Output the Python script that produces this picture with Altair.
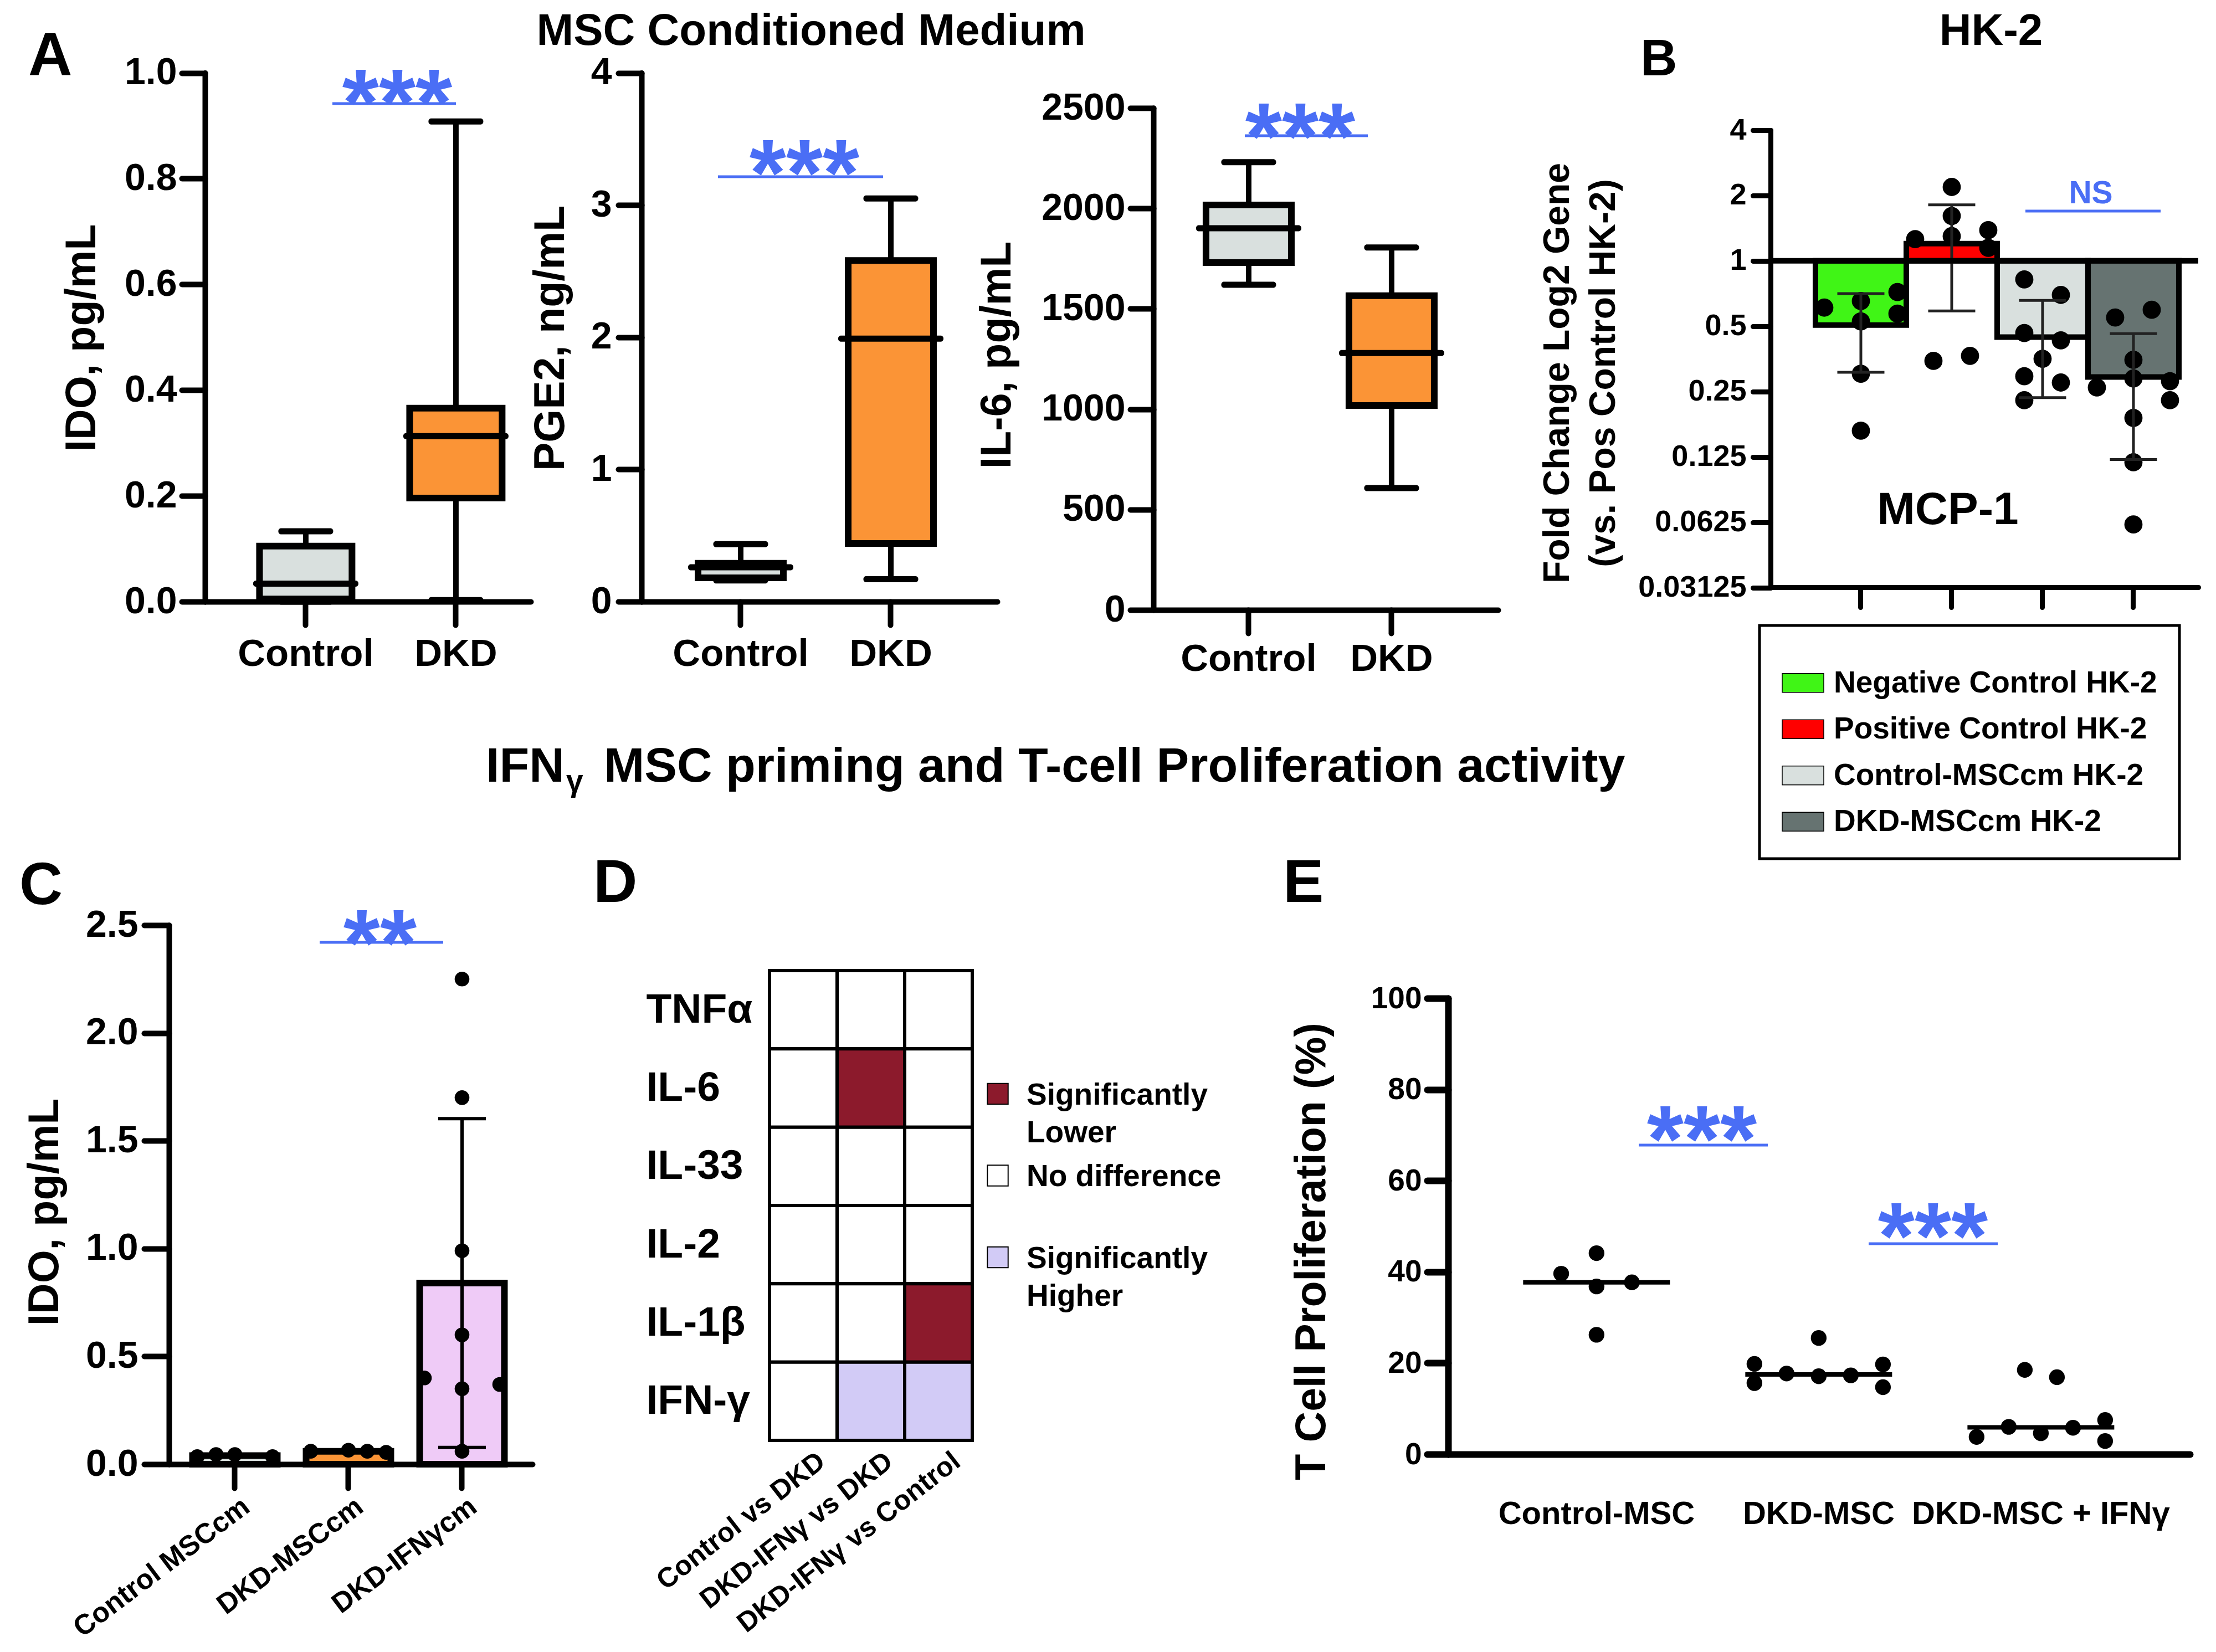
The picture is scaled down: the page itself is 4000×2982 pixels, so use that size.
import altair as alt
import pandas as pd

OFF = 8
W, H = 3984, 2966
FONT = "Liberation Sans"
BLUE = "#4a6ef5"
ORANGE = "#fb9436"
LIGHT = "#d9e0de"


def P(v):
    return v - OFF


# ---------------- Panel A : MSC conditioned medium (box plots) ----------------
A_groups = ["Control", "DKD"]
ido_min = [0.0, 0.003]
ido_q1 = [0.005, 0.196]
ido_med = [0.034, 0.313]
ido_q3 = [0.105, 0.366]
ido_max = [0.133, 0.908]

pge2_min = [0.16, 0.17]
pge2_q1 = [0.18, 0.44]
pge2_med = [0.26, 1.99]
pge2_q3 = [0.29, 2.58]
pge2_max = [0.435, 3.05]

il6_min = [1620, 607]
il6_q1 = [1730, 1018]
il6_med = [1901, 1280]
il6_q3 = [2017, 1565]
il6_max = [2230, 1805]

# ---------------- Panel B : HK-2 MCP-1 fold change ----------------
B_groups = ["Negative Control HK-2", "Positive Control HK-2",
            "Control-MSCcm HK-2", "DKD-MSCcm HK-2"]
B_neg = [0.609, 0.653, 0.718, 0.571, 0.526, 0.302, 0.165]
B_neg_slot = [-2, 0, 2, 2, 0, 0, 0]
B_pos = [1.26, 2.19, 1.61, 1.30, 1.385, 1.148, 0.346, 0.365]
B_pos_slot = [-2, 0, 0, 0, 2, 2, -1, 1]
B_cms = [0.821, 0.697, 0.465, 0.430, 0.354, 0.294, 0.275, 0.228]
B_cms_slot = [-1, 1, -1, 1, 0, -1, 1, -1]
B_dms = [0.548, 0.595, 0.350, 0.261, 0.287, 0.279, 0.228, 0.189, 0.118, 0.061]
B_dms_slot = [-1, 1, 0, -2, 0, 2, 2, 0, 0, 0]
B_ticks = [0.03125, 0.0625, 0.125, 0.25, 0.5, 1, 2, 4]

# ---------------- Panel C : IDO after IFNg priming ----------------
C_groups = ["Control MSCcm", "DKD-MSCcm", "DKD-IFNγcm"]
C_ctrl = [0.035, 0.045, 0.045, 0.035]
C_ctrl_slot = [-2, -1, 0, 2]
C_dkd = [0.06, 0.065, 0.06, 0.055]
C_dkd_slot = [-2, 0, 1, 2]
C_ifn = [2.25, 1.70, 0.99, 0.60, 0.35, 0.40, 0.37, 0.06]
C_ifn_slot = [0, 0, 0, 0, 0, -2, 2, 0]

# ---------------- Panel D : cytokine heat map ----------------
D_rows = ["TNFα", "IL-6", "IL-33", "IL-2", "IL-1β", "IFN-γ"]
D_cols = ["Control vs DKD", "DKD-IFNγ vs DKD", "DKD-IFNγ vs Control"]
D_levels = ["Significantly Lower", "No difference", "Significantly Higher"]
D_level_labels = ["Significantly\nLower", "No difference", "Significantly\nHigher"]
D_status = [
    ["No difference", "No difference", "No difference"],
    ["No difference", "Significantly Lower", "No difference"],
    ["No difference", "No difference", "No difference"],
    ["No difference", "No difference", "No difference"],
    ["No difference", "No difference", "Significantly Lower"],
    ["No difference", "Significantly Higher", "Significantly Higher"],
]

# ---------------- Panel E : T cell proliferation ----------------
E_groups = ["Control-MSC", "DKD-MSC", "DKD-MSC + IFNγ"]
E_ctrl = [39.6, 44.1, 36.8, 37.7, 26.2]
E_ctrl_slot = [-2.2, 0, 0, 2.2, 0]
E_dkd = [19.8, 15.6, 17.7, 25.5, 17.1, 17.3, 19.7, 14.7]
E_dkd_slot = [-4, -4, -2, 0, 0, 2, 4, 4]
E_ifn = [3.8, 6.0, 18.5, 4.6, 16.9, 5.8, 7.5, 2.9]
E_ifn_slot = [-4, -2, -1, 0, 1, 2, 4, 4]


# ---------------- helpers ----------------
def one():
    return alt.Data(values=[{"k": 1}])


def txt(s, x, y, size, align="center", color="black"):
    return alt.Chart(one()).mark_text(
        text=s, align=align, baseline="alphabetic", fontSize=size,
        fontWeight="bold", font=FONT, color=color
    ).encode(x=alt.value(P(x)), y=alt.value(P(y)))


def hline(x1, x2, y, color=BLUE, width=5):
    return alt.Chart(one()).mark_rule(color=color, strokeWidth=width).encode(
        x=alt.value(P(x1)), x2=alt.value(P(x2)), y=alt.value(P(y)))


def common():
    return dict(domainColor="black", tickColor="black", grid=False,
                labelFont=FONT, labelFontWeight="bold", labelColor="black",
                labelOverlap=False, labelFlush=False, labelLimit=0,
                domainCap="round", tickCap="round")


def left_axis(axis_x, values, fmt=None, label_size=68, tick=42, pad=9, dw=10,
              title=None, tcx=None, tcy=None, tsize=77, tline=None):
    d = common()
    d.update(orient="left", offset=-P(axis_x), values=values, domainWidth=dw,
             tickWidth=dw, tickSize=tick, labelPadding=pad,
             labelFontSize=label_size)
    if fmt is not None:
        d["format"] = fmt
    if title is None:
        d["title"] = None
    else:
        d.update(title=title, titleFont=FONT, titleFontSize=tsize,
                 titleFontWeight="bold", titleColor="black", titleAngle=270,
                 titleAlign="center", titleBaseline="middle", titleLimit=0,
                 titleX=tcx - axis_x, titleY=P(tcy))
        if tline:
            d["titleLineHeight"] = tline
    return alt.Axis(**d)


def bottom_axis(axis_y, tick=42, pad=52, label_size=68, dw=10, labels=True,
                angle=0, align="center", baseline="middle", loff=0,
                ticks=True, domain=True):
    d = common()
    d.update(orient="bottom", offset=P(axis_y) - H, title=None, domainWidth=dw,
             tickWidth=dw, tickSize=tick if ticks else 0, ticks=ticks,
             labels=labels, labelPadding=pad, labelFontSize=label_size,
             labelAngle=angle, labelAlign=align, labelBaseline=baseline,
             labelOffset=loff, domain=domain)
    return alt.Axis(**d)


def slot_points(df, X, Yenc, unit, size):
    """Dots of a scatter-dot plot, spread sideways in columns (slots)."""
    out = []
    for s in sorted(set(df["slot"])):
        out.append(
            alt.Chart(df).transform_filter(alt.datum.slot == s).mark_circle(
                size=size, color="black", opacity=1, xOffset=s * unit
            ).encode(x=X, y=Yenc))
    return out


def box_panel(vmin, q1, med, q3, vmax, x_rng, pi, po, al, y_dom, y_rng,
              y_vals, fmt, axis_x, axis_y, lab_pad, tick_pad, title, tcx, tcy):
    df = pd.DataFrame({"group": A_groups, "vmin": vmin, "q1": q1, "med": med,
                       "q3": q3, "vmax": vmax})
    xs = alt.Scale(domain=A_groups, range=[P(x_rng[0]), P(x_rng[1])],
                   paddingInner=pi, paddingOuter=po, align=al)
    X = alt.X("group:N", scale=xs,
              axis=bottom_axis(axis_y, tick=42, pad=lab_pad, label_size=69))
    ys = alt.Scale(domain=y_dom, range=[P(y_rng[0]), P(y_rng[1])],
                   nice=False, zero=False)
    AY = left_axis(axis_x, y_vals, fmt=fmt, pad=tick_pad, title=title,
                   tcx=tcx, tcy=tcy)

    def Y(f):
        return alt.Y(f + ":Q", scale=ys, axis=AY)

    col = alt.Color("group:N", scale=alt.Scale(domain=A_groups,
                                               range=[LIGHT, ORANGE]),
                    legend=None)
    base = alt.Chart(df)
    w1 = base.mark_rule(strokeWidth=10, color="black").encode(
        x=X, y=Y("vmin"), y2="q1")
    w2 = base.mark_rule(strokeWidth=10, color="black").encode(
        x=X, y=Y("q3"), y2="vmax")
    c1 = base.mark_tick(size=99, thickness=11, color="black", opacity=1,
                        cornerRadius=5).encode(x=X, y=Y("vmin"))
    c2 = base.mark_tick(size=99, thickness=11, color="black", opacity=1,
                        cornerRadius=5).encode(x=X, y=Y("vmax"))
    box = base.mark_bar(stroke="black", strokeWidth=12, opacity=1).encode(
        x=X, y=Y("q1"), y2="q3", color=col)
    m = base.mark_tick(size=190, thickness=11, color="black", opacity=1,
                       cornerRadius=5).encode(x=X, y=Y("med"))
    return alt.layer(w1, w2, c1, c2, box, m)


layers = []

# ---- Panel A
layers.append(box_panel(ido_min, ido_q1, ido_med, ido_q3, ido_max,
                        (370, 958), 0.384, 0.2769, 0.656, [0, 1], (1086, 131.5),
                        [0, 0.2, 0.4, 0.6, 0.8, 1.0], ".1f", 370, 1086, 52, 9,
                        "IDO, pg/mL", 148, 609.5))
layers.append(box_panel(pge2_min, pge2_q1, pge2_med, pge2_q3, pge2_max,
                        (1158, 1800), 0.432, 0.4005, 0.47, [0, 4], (1086, 131.5),
                        [0, 1, 2, 3, 4], "d", 1158, 1086, 52, 12,
                        "PGE2, ng/mL", 994, 610))
layers.append(box_panel(il6_min, il6_q1, il6_med, il6_q3, il6_max,
                        (2082, 2704), 0.403, 0.407, 0.452, [0, 2500], (1101, 195),
                        [0, 500, 1000, 1500, 2000, 2500], "d", 2082, 1101, 46, 9,
                        "IL-6, pg/mL", 1800, 640.5))

# ---- Panel B
b_vals = B_neg + B_pos + B_cms + B_dms
b_slot = B_neg_slot + B_pos_slot + B_cms_slot + B_dms_slot
b_grp = ([B_groups[0]] * len(B_neg) + [B_groups[1]] * len(B_pos)
         + [B_groups[2]] * len(B_cms) + [B_groups[3]] * len(B_dms))
bdf = pd.DataFrame({"group": b_grp, "value": b_vals, "slot": b_slot})
B_colors = ["#40f516", "#ff0000", LIGHT, "#667371"]
bx = alt.Scale(domain=B_groups, range=[P(3196), P(3968)], paddingInner=0,
               paddingOuter=0.3537, align=0.698)
BX = alt.X("group:N", scale=bx, axis=bottom_axis(1060, tick=36, labels=False, dw=9))
by = alt.Scale(type="log", base=2, domain=[0.03125, 4],
               range=[P(1060.5), P(235)], nice=False)
BAY = left_axis(3196, B_ticks, fmt="~g", label_size=54, tick=32, pad=12, dw=9,
                title=["Fold Change Log2 Gene", "(vs. Pos Control HK-2)"],
                tcx=2811.5, tcy=673, tsize=66, tline=83)


def BY(f):
    return alt.Y(f + ":Q", scale=by, axis=BAY)


bcol = alt.Color("group:N", scale=alt.Scale(domain=B_groups, range=B_colors),
                 legend=None)
bbase = alt.Chart(bdf)
bagg = bbase.transform_aggregate(
    mean="mean(value)", sd="stdev(value)", groupby=["group"]
).transform_calculate(lo="datum.mean - datum.sd", hi="datum.mean + datum.sd")
b_bars = bagg.mark_bar(stroke="black", strokeWidth=10, opacity=1).encode(
    x=BX, y=BY("mean"), y2=alt.datum(1), color=bcol)
b_pts = slot_points(bdf, BX, BY("value"), 33, 1075)
b_eb = bagg.mark_rule(strokeWidth=5, color="#222222").encode(
    x=BX, y=BY("lo"), y2="hi")
b_c1 = bagg.mark_tick(size=85, thickness=5, color="#222222", opacity=1).encode(
    x=BX, y=BY("lo"))
b_c2 = bagg.mark_tick(size=85, thickness=5, color="#222222", opacity=1).encode(
    x=BX, y=BY("hi"))
b_ref = alt.Chart(one()).mark_rule(strokeWidth=10, color="black").encode(
    x=alt.value(P(3196)), x2=alt.value(P(3968)),
    y=alt.YDatum(1, scale=by, axis=BAY))
layers.append(alt.layer(b_bars, *b_pts, b_eb, b_c1, b_c2, b_ref))

# ---- Panel B legend
ldf = pd.DataFrame({"group": B_groups})
ls = alt.Scale(domain=B_groups, range=[P(1191), P(1525)], paddingInner=0.59,
               paddingOuter=0.295)
leg_box = alt.Chart(one()).mark_rect(fillOpacity=0, stroke="black",
                                     strokeWidth=5).encode(
    x=alt.value(P(3176)), x2=alt.value(P(3934)),
    y=alt.value(P(1129)), y2=alt.value(P(1550)))
leg_sw = alt.Chart(ldf).mark_rect(stroke="black", strokeWidth=1.5).encode(
    x=alt.value(P(3217)), x2=alt.value(P(3292)),
    y=alt.Y("group:N", scale=ls, axis=None), color=bcol)
leg_tx = alt.Chart(ldf).mark_text(align="left", baseline="middle", fontSize=55,
                                  fontWeight="bold", font=FONT,
                                  color="black").encode(
    x=alt.value(P(3310)), y=alt.Y("group:N", scale=ls, axis=None),
    text="group:N")
layers.append(alt.layer(leg_box, leg_sw, leg_tx))

# ---- Panel C
c_vals = C_ctrl + C_dkd + C_ifn
c_slot = C_ctrl_slot + C_dkd_slot + C_ifn_slot
c_grp = ([C_groups[0]] * len(C_ctrl) + [C_groups[1]] * len(C_dkd)
         + [C_groups[2]] * len(C_ifn))
cdf = pd.DataFrame({"group": c_grp, "value": c_vals, "slot": c_slot})
cx = alt.Scale(domain=C_groups, range=[P(305), P(961)], paddingInner=0.254,
               paddingOuter=0.227, align=0.457)
CX = alt.X("group:N", scale=cx,
           axis=bottom_axis(2643, tick=43, pad=8, label_size=51, angle=323,
                            align="right", baseline="top", loff=6))
cy = alt.Scale(domain=[0, 2.5], range=[P(2643), P(1670)], nice=False)
CAY = left_axis(305, [0, 0.5, 1.0, 1.5, 2.0, 2.5], fmt=".1f", tick=45, pad=11,
                title="IDO, pg/mL", tcx=81, tcy=2187.5)


def CY(f):
    return alt.Y(f + ":Q", scale=cy, axis=CAY)


cbase = alt.Chart(cdf)
cagg = cbase.transform_aggregate(
    mean="mean(value)", sd="stdev(value)", groupby=["group"]
).transform_calculate(lo="max(datum.mean - datum.sd, 0)",
                      hi="datum.mean + datum.sd")
c_bars = cagg.mark_bar(stroke="black", strokeWidth=12, opacity=1).encode(
    x=CX, y=CY("mean"),
    color=alt.Color("group:N", scale=alt.Scale(
        domain=C_groups, range=[LIGHT, ORANGE, "#efcbf7"]), legend=None))
c_pts = slot_points(cdf, CX, CY("value"), 34, 707)
c_eb = cagg.mark_rule(strokeWidth=6, color="black").encode(
    x=CX, y=CY("lo"), y2="hi")
c_c1 = cagg.mark_tick(size=86, thickness=6, color="black", opacity=1).encode(
    x=CX, y=CY("lo"))
c_c2 = cagg.mark_tick(size=86, thickness=6, color="black", opacity=1).encode(
    x=CX, y=CY("hi"))
layers.append(alt.layer(c_bars, *c_pts, c_eb, c_c1, c_c2))

# ---- Panel D heat map
drecs = []
for i, r in enumerate(D_rows):
    for j, c in enumerate(D_cols):
        drecs.append({"row": r, "col": c, "status": D_status[i][j]})
ddf = pd.DataFrame(drecs)
D_colors = ["#8c1a2c", "#ffffff", "#d2cbf6"]
dcol = alt.Color("status:N", scale=alt.Scale(domain=D_levels, range=D_colors),
                 legend=None)
dyax = common()
dyax.update(orient="left", offset=-P(1389), title=None, domain=False,
            ticks=False, tickSize=0, labelAlign="left", labelBaseline="middle",
            labelPadding=223, labelFontSize=75)
d_rect = alt.Chart(ddf).mark_rect(stroke="black", strokeWidth=6).encode(
    x=alt.X("col:N", scale=alt.Scale(domain=D_cols, range=[P(1389), P(1755)],
                                     paddingInner=0, paddingOuter=0),
            axis=bottom_axis(2600, pad=12, label_size=50, angle=322,
                             align="right", baseline="top", loff=18,
                             ticks=False, domain=False)),
    y=alt.Y("row:N", scale=alt.Scale(domain=D_rows, range=[P(1752), P(2600)],
                                     paddingInner=0, paddingOuter=0),
            axis=alt.Axis(**dyax)),
    color=dcol)
layers.append(d_rect)

# ---- Panel D legend
dldf = pd.DataFrame({"status": D_levels, "label": D_level_labels})
dls = alt.Scale(domain=D_levels, range=[P(1974.5), P(2269.5)], padding=0)
d_sw = alt.Chart(dldf).mark_square(size=1400, stroke="black", strokeWidth=2,
                                   opacity=1).encode(
    x=alt.value(P(1801)), y=alt.Y("status:N", scale=dls, axis=None), color=dcol)
d_tx = alt.Chart(dldf).mark_text(align="left", baseline="top", dy=-24,
                                 lineBreak="\n", lineHeight=68, fontSize=55,
                                 fontWeight="bold", font=FONT,
                                 color="black").encode(
    x=alt.value(P(1853)), y=alt.Y("status:N", scale=dls, axis=None),
    text="label:N")
layers.append(alt.layer(d_sw, d_tx))

# ---- Panel E
e_vals = E_ctrl + E_dkd + E_ifn
e_slot = E_ctrl_slot + E_dkd_slot + E_ifn_slot
e_grp = ([E_groups[0]] * len(E_ctrl) + [E_groups[1]] * len(E_dkd)
         + [E_groups[2]] * len(E_ifn))
edf = pd.DataFrame({"group": e_grp, "value": e_vals, "slot": e_slot})
ex = alt.Scale(domain=E_groups, range=[P(2614), P(3953)], paddingInner=0.34,
               paddingOuter=0.3395, align=0.4976)
EX = alt.X("group:N", scale=ex,
           axis=bottom_axis(2625, pad=108, label_size=58, ticks=False, dw=12))
ey = alt.Scale(domain=[0, 100], range=[P(2625), P(1802)], nice=False)
EAY = left_axis(2614, [0, 20, 40, 60, 80, 100], fmt="d", label_size=55, tick=38,
                pad=10, dw=12, title="T Cell Proliferation (%)", tcx=2368,
                tcy=2258.5)


def EY(f):
    return alt.Y(f + ":Q", scale=ey, axis=EAY)


e_pts = slot_points(edf, EX, EY("value"), 29, 804)
e_med = alt.Chart(edf).transform_aggregate(
    med="median(value)", groupby=["group"]
).mark_tick(size=265, thickness=8, color="black", opacity=1).encode(
    x=EX, y=EY("med"))
layers.append(alt.layer(*e_pts, e_med))

# ---- titles, panel letters, significance marks
STAR = 170
layers += [
    txt("A", 51, 135, 110, align="left"),
    txt("MSC Conditioned Medium", 1464, 81, 80),
    txt("HK-2", 3594, 81, 80),
    txt("B", 2961, 136, 92, align="left"),
    txt("MCP-1", 3516, 946, 82),
    txt("NS", 3774, 367, 57, color=BLUE),
    hline(3656, 3900, 381),
    txt("***", 717, 244, STAR, color=BLUE), hline(600, 823, 187),
    txt("***", 1452, 371, STAR, color=BLUE), hline(1296, 1594, 319),
    txt("***", 2347, 305, STAR, color=BLUE), hline(2247, 2469, 245),
    txt("IFN", 877, 1411, 88, align="left"),
    txt("γ", 1022, 1428, 55, align="left"),
    txt("MSC priming and T-cell Proliferation activity", 1090, 1411, 88,
        align="left"),
    txt("C", 35, 1632, 108, align="left"),
    txt("D", 1071, 1628, 110, align="left"),
    txt("E", 2316, 1628, 110, align="left"),
    txt("**", 686, 1761, STAR, color=BLUE), hline(577, 800, 1701),
    txt("***", 3072, 2115, STAR, color=BLUE), hline(2958, 3191, 2067),
    txt("***", 3489, 2290, STAR, color=BLUE), hline(3373, 3606, 2245),
]

chart = alt.layer(*layers).resolve_scale(
    x="independent", y="independent", color="independent"
).resolve_axis(
    x="independent", y="independent"
).properties(
    width=W, height=H, padding=0, autosize=alt.AutoSizeParams(type="none")
).configure_view(strokeWidth=0)

chart.save("out.html", embed_options={"renderer": "svg", "actions": False})
